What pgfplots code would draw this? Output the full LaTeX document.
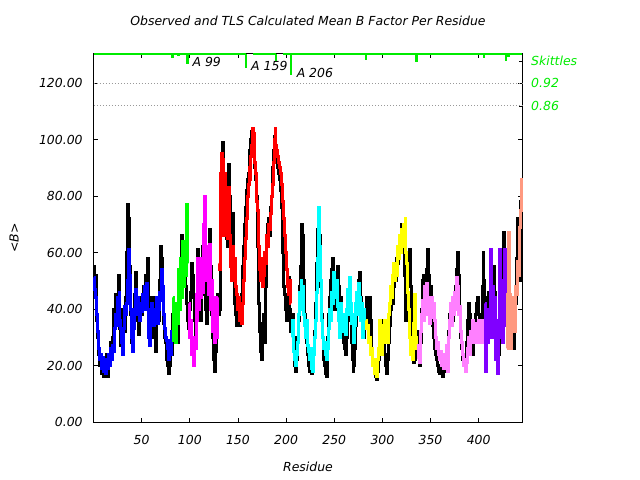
\documentclass[border=0pt]{standalone}
\usepackage{fontspec}
\setmainfont{DejaVu Sans}
\usepackage{pgfplots}
\pgfplotsset{compat=1.18}
\definecolor{cblue}{RGB}{0,0,255}
\definecolor{cgreen}{RGB}{0,255,0}
\definecolor{cmag}{RGB}{255,0,255}
\definecolor{cred}{RGB}{255,0,0}
\definecolor{ccyan}{RGB}{0,255,255}
\definecolor{cyel}{RGB}{255,255,0}
\definecolor{cpink}{RGB}{255,128,255}
\definecolor{cpurp}{RGB}{128,0,255}
\definecolor{csalm}{RGB}{255,153,128}
\definecolor{skg}{RGB}{0,235,0}
\begin{document}
\fontsize{12.5}{15}\selectfont\itshape
\begin{tikzpicture}
\begin{axis}[name=ax, scale only axis, width=428bp, height=368bp,
  xmin=0.5, xmax=445, ymin=0, ymax=130.3, clip=false,
  xtick={50,100,...,400}, ytick={0,20,...,120},
  tick align=inside, major tick length=4bp, xtick pos=both, ytick pos=both,
  axis line style={line width=1bp}, tick style={line width=0.8bp, black},
  /pgf/number format/assume math mode=true,
  yticklabel style={/pgf/number format/fixed, /pgf/number format/fixed zerofill, /pgf/number format/precision=2, anchor=east, xshift=-7bp},
  xticklabel style={anchor=center, yshift=-18bp},
  title={Observed and TLS Calculated Mean B Factor Per Residue},
  title style={at={(axis description cs:0.5,1.0734)}, anchor=center},
  xlabel={Residue}, xlabel style={at={(axis description cs:0.5,-0.1209)}, anchor=center},
  ylabel={<B>}, ylabel style={at={(axis description cs:-0.1869,0.5)}, anchor=center},
  every axis plot/.append style={const plot mark mid, line width=3bp},
]
\draw[gray!80, dotted, line width=1bp] (axis cs:0.5,120) -- (axis cs:445,120);
\draw[gray!80, dotted, line width=1bp] (axis cs:0.5,111.9) -- (axis cs:445,111.9);
% observed
\addplot[black] coordinates {(1,55)(2,48)(3,52)(4,36)(5,30)(6,24)(7,20)(8,22)(9,17)(10,21)(11,16)(12,22)(13,18)(14,24)(15,16)(16,22)(17,21)(18,28)(19,24)(20,30)(21,40)(22,35)(23,45)(24,38)(25,42)(26,52)(27,45)(28,33)(29,27)(30,30)(31,40)(32,36)(33,32)(34,44)(35,60)(36,77)(37,72)(38,55)(39,38)(40,28)(41,32)(42,38)(43,45)(44,53)(45,42)(46,36)(47,31)(48,40)(49,44)(50,38)(51,42)(52,48)(53,44)(54,52)(55,46)(56,50)(57,58)(58,44)(59,35)(60,30)(61,38)(62,44)(63,36)(64,30)(65,25)(66,38)(67,42)(68,36)(69,50)(70,62)(71,58)(72,45)(73,35)(74,30)(75,28)(76,22)(77,20)(78,17)(79,20)(80,26)(81,30)(82,24)(83,38)(84,30)(85,35)(86,30)(87,37)(88,28)(89,40)(90,48)(91,58)(92,66)(93,61)(94,62)(95,55)(96,48)(97,42)(98,36)(99,33)(100,40)(101,46)(102,56)(103,52)(104,44)(105,36)(106,30)(107,40)(108,50)(109,61)(110,55)(111,42)(112,36)(113,45)(114,62)(115,58)(116,50)(117,40)(118,35)(119,48)(120,62)(121,68)(122,55)(123,38)(124,30)(125,22)(126,18)(127,25)(128,40)(129,45)(130,38)(131,40)(132,72)(133,90)(134,99)(135,85)(136,80)(137,70)(138,76)(139,65)(140,62)(141,91)(142,80)(143,62)(144,72)(145,74)(146,55)(147,42)(148,38)(149,34)(150,36)(151,40)(152,34)(153,38)(154,45)(155,55)(156,62)(157,70)(158,76)(159,82)(160,86)(161,88)(162,92)(163,96)(164,100)(165,103)(166,98)(167,94)(168,90)(169,86)(170,80)(171,62)(172,42)(173,32)(174,25)(175,22)(176,35)(177,38)(178,28)(179,48)(180,62)(181,70)(182,72)(183,66)(184,76)(185,80)(186,90)(187,96)(188,101)(189,98)(190,96)(191,92)(192,90)(193,88)(194,86)(195,82)(196,76)(197,60)(198,48)(199,45)(200,40)(201,36)(202,44)(203,51)(204,40)(205,32)(206,35)(207,38)(208,30)(209,20)(210,18)(211,22)(212,30)(213,36)(214,48)(215,55)(216,62)(217,70)(218,66)(219,50)(220,38)(221,32)(222,28)(223,24)(224,20)(225,18)(226,22)(227,17)(228,20)(229,26)(230,32)(231,42)(232,56)(233,68)(234,74)(235,66)(236,48)(237,38)(238,30)(239,22)(240,20)(241,17)(242,16)(243,22)(244,30)(245,38)(246,44)(247,50)(248,54)(249,58)(250,48)(251,40)(252,44)(253,52)(254,55)(255,48)(256,40)(257,44)(258,38)(259,32)(260,28)(261,26)(262,24)(263,30)(264,36)(265,42)(266,46)(267,36)(268,28)(269,22)(270,18)(271,20)(272,26)(273,34)(274,40)(275,46)(276,50)(277,53)(278,44)(279,38)(280,33)(281,30)(282,34)(283,40)(284,44)(285,36)(286,30)(287,44)(288,36)(289,26)(290,22)(291,20)(292,18)(293,16)(294,15)(295,18)(296,22)(297,28)(298,34)(299,28)(300,24)(301,30)(302,36)(303,24)(304,20)(305,17)(306,22)(307,28)(308,34)(309,40)(310,44)(311,42)(312,48)(313,54)(314,50)(315,58)(316,56)(317,62)(318,60)(319,66)(320,70)(321,64)(322,60)(323,52)(324,44)(325,36)(326,40)(327,50)(328,56)(329,61)(330,48)(331,34)(332,24)(333,21)(334,22)(335,28)(336,32)(337,30)(338,24)(339,20)(340,28)(341,40)(342,50)(343,52)(344,46)(345,44)(346,54)(347,61)(348,52)(349,42)(350,48)(351,40)(352,36)(353,34)(354,30)(355,26)(356,24)(357,22)(358,20)(359,18)(360,17)(361,19)(362,17)(363,16)(364,18)(365,20)(366,22)(367,24)(368,26)(369,32)(370,38)(371,40)(372,42)(373,36)(374,40)(375,44)(376,48)(377,54)(378,58)(379,60)(380,52)(381,40)(382,30)(383,26)(384,22)(385,20)(386,24)(387,22)(388,28)(389,36)(390,42)(391,38)(392,30)(393,26)(394,24)(395,28)(396,34)(397,38)(398,42)(399,44)(400,38)(401,32)(402,28)(403,36)(404,48)(405,60)(406,50)(407,44)(408,36)(409,30)(410,38)(411,46)(412,40)(413,50)(414,44)(415,52)(416,55)(417,46)(418,36)(419,28)(420,22)(421,24)(422,34)(423,42)(424,50)(425,58)(426,67)(427,56)(428,44)(429,40)(430,48)(431,36)(432,34)(433,30)(434,28)(435,32)(436,30)(437,26)(438,34)(439,42)(440,58)(441,72)(442,62)(443,50)(444,78)(445,83)};
% TLS calculated, per group
\addplot[cblue] coordinates {(1,51)(2,47)(3,44)(4,38)(5,32)(6,26)(7,22)(8,24)(9,19)(10,23)(11,18)(12,21)(13,17)(14,22)(15,19)(16,24)(17,20)(18,26)(19,22)(20,27)(21,25)(22,33)(23,38)(24,34)(25,44)(26,39)(27,46)(28,36)(29,33)(30,28)(31,24)(32,33)(33,41)(34,38)(35,42)(36,50)(37,61)(38,52)(39,40)(40,30)(41,25)(42,33)(43,40)(44,47)(45,38)(46,44)(47,40)(48,36)(49,42)(50,39)(51,45)(52,40)(53,48)(54,44)(55,42)(56,49)(57,40)(58,30)(59,27)(60,36)(61,42)(62,38)(63,34)(64,40)(65,37)(66,44)(67,35)(68,40)(69,46)(70,43)(71,54)(72,48)(73,38)(74,33)(75,30)(76,29)(77,26)(78,22)(79,25)(80,29)(81,24)(82,32)};
\addplot[cgreen] coordinates {(83,44)(84,29)(85,36)(86,28)(87,42)(88,35)(89,54)(90,40)(91,58)(92,44)(93,64)(94,48)(95,62)(96,52)(97,77)(98,56)};
\addplot[cmag] coordinates {(99,42)(100,30)(101,36)(102,24)(103,28)(104,20)(105,30)(106,26)(107,45)(108,36)(109,58)(110,40)(111,55)(112,44)(113,58)(114,46)(115,70)(116,80)(117,62)(118,50)(119,60)(120,45)(121,63)(122,40)(123,50)(124,32)(125,44)(126,28)(127,40)(128,30)(129,44)};
\addplot[cred] coordinates {(130,56)(131,54)(132,88)(133,95)(134,90)(135,93)(136,66)(137,88)(138,70)(139,80)(140,65)(141,83)(142,66)(143,55)(144,50)(145,62)(146,50)(147,58)(148,48)(149,45)(150,40)(151,44)(152,36)(153,38)(154,35)(155,42)(156,50)(157,58)(158,65)(159,72)(160,80)(161,84)(162,90)(163,86)(164,94)(165,98)(166,104)(167,102)(168,92)(169,88)(170,78)(171,75)(172,62)(173,54)(174,50)(175,58)(176,48)(177,52)(178,60)(179,56)(180,66)(181,62)(182,70)(183,68)(184,74)(185,80)(186,84)(187,92)(188,100)(189,104)(190,98)(191,96)(192,94)(193,92)(194,90)(195,88)(196,84)(197,78)(198,72)(199,66)(200,60)(201,54)(202,48)(203,45)(204,50)(205,42)};
\addplot[ccyan] coordinates {(206,30)(207,36)(208,25)(209,22)(210,20)(211,24)(212,28)(213,38)(214,46)(215,40)(216,50)(217,44)(218,48)(219,38)(220,34)(221,30)(222,36)(223,27)(224,25)(225,22)(226,26)(227,19)(228,18)(229,24)(230,30)(231,36)(232,46)(233,58)(234,76)(235,62)(236,50)(237,36)(238,30)(239,26)(240,28)(241,24)(242,22)(243,28)(244,26)(245,33)(246,40)(247,36)(248,46)(249,42)(250,53)(251,48)(252,44)(253,50)(254,41)(255,36)(256,30)(257,42)(258,34)(259,38)(260,32)(261,36)(262,31)(263,40)(264,47)(265,38)(266,51)(267,42)(268,35)(269,38)(270,32)(271,28)(272,34)(273,42)(274,46)(275,38)(276,49)(277,44)(278,36)(279,42)(280,30)(281,34)(282,40)};
\addplot[cyel] coordinates {(283,36)(284,33)(285,34)(286,28)(287,30)(288,24)(289,26)(290,20)(291,22)(292,17)(293,20)(294,16)(295,22)(296,26)(297,32)(298,36)(299,30)(300,24)(301,34)(302,28)(303,36)(304,30)(305,34)(306,28)(307,38)(308,42)(309,48)(310,44)(311,52)(312,56)(313,50)(314,56)(315,52)(316,62)(317,58)(318,66)(319,60)(320,68)(321,62)(322,70)(323,66)(324,72)(325,60)(326,56)(327,46)(328,40)(329,30)(330,24)(331,28)(332,22)(333,35)(334,45)(335,30)(336,26)};
\addplot[cpink] coordinates {(337,22)(338,27)(339,21)(340,32)(341,38)(342,43)(343,36)(344,48)(345,40)(346,49)(347,38)(348,44)(349,35)(350,42)(351,37)(352,44)(353,38)(354,42)(355,36)(356,30)(357,26)(358,28)(359,24)(360,22)(361,25)(362,20)(363,22)(364,19)(365,24)(366,20)(367,27)(368,18)(369,30)(370,36)(371,42)(372,34)(373,44)(374,38)(375,46)(376,40)(377,51)(378,44)(379,48)(380,38)(381,41)(382,32)(383,28)(384,24)(385,20)(386,22)(387,18)(388,21)(389,26)(390,30)(391,24)(392,32)(393,28)(394,36)(395,30)(396,35)(397,28)(398,34)(399,30)(400,36)(401,28)(402,33)(403,30)(404,36)(405,32)(406,28)};
\addplot[cpurp] coordinates {(407,42)(408,18)(409,36)(410,28)(411,40)(412,30)(413,61)(414,38)(415,48)(416,30)(417,44)(418,22)(419,36)(420,17)(421,30)(422,61)(423,40)(424,50)(425,28)(426,44)(427,61)(428,34)};
\addplot[csalm] coordinates {(429,26)(430,45)(431,67)(432,30)(433,45)(434,26)(435,40)(436,35)(437,44)(438,32)(439,48)(440,45)(441,57)(442,52)(443,69)(444,75)(445,86)};
% skittles strip
\addplot[skg, sharp plot, line width=1.5bp] coordinates {(0.5,130.3)(81.7,130.3)(81.7,129.2)(82.9,129.2)(82.9,130.3)(87,130.3)(87,129.8)(89,129.8)(89,130.3)(97.3,130.3)(97.3,127.2)(98.5,127.2)(98.5,130.3)(157.7,130.3)(157.7,125.6)(158.9,125.6)(158.9,130.3)};
\addplot[skg, sharp plot, line width=1.5bp] coordinates {(166,130.3)(189,130.3)(189,128)(190.2,128)(190.2,130.3)};
\addplot[skg, sharp plot, line width=1.5bp] coordinates {(196.4,130.3)(204.5,130.3)(204.5,123.2)(205.7,123.2)(205.7,130.3)(282.5,130.3)(282.5,128.5)(283.5,128.5)(283.5,130.3)(335,130.3)(335,127.9)(336.2,127.9)(336.2,130.3)(405,130.3)(405,129)(406.2,129)(406.2,130.3)(427.8,130.3)(427.8,128)(429,128)(429,130.3)(430,130.3)(430,129.6)(431.5,129.6)(431.5,130.3)(445,130.3)};
\node[anchor=west, inner sep=0, xshift=4bp, yshift=1bp] at (axis cs:98.5,127.2) {A 99};
\node[anchor=west, inner sep=0, xshift=4.5bp, yshift=1bp] at (axis cs:158.9,125.6) {A 159};
\node[anchor=west, inner sep=0, xshift=5bp, yshift=1bp] at (axis cs:205.7,123.2) {A 206};
\node[anchor=west, inner sep=0, xshift=9bp, text=skg] at (axis cs:445,127.8) {Skittles};
\node[anchor=west, inner sep=0, xshift=9bp, text=skg] at (axis cs:445,120) {0.92};
\node[anchor=west, inner sep=0, xshift=9bp, text=skg] at (axis cs:445,111.9) {0.86};
\draw[line width=0.8bp] (axis cs:445,127.8) -- ++(-3bp,0);
\draw[line width=0.8bp] (axis cs:445,111.9) -- ++(-3bp,0);
\end{axis}
\pgfresetboundingbox
\path (ax.south west) ++(-94bp,-58bp) rectangle ++(640bp,480bp);
\end{tikzpicture}
\end{document}
